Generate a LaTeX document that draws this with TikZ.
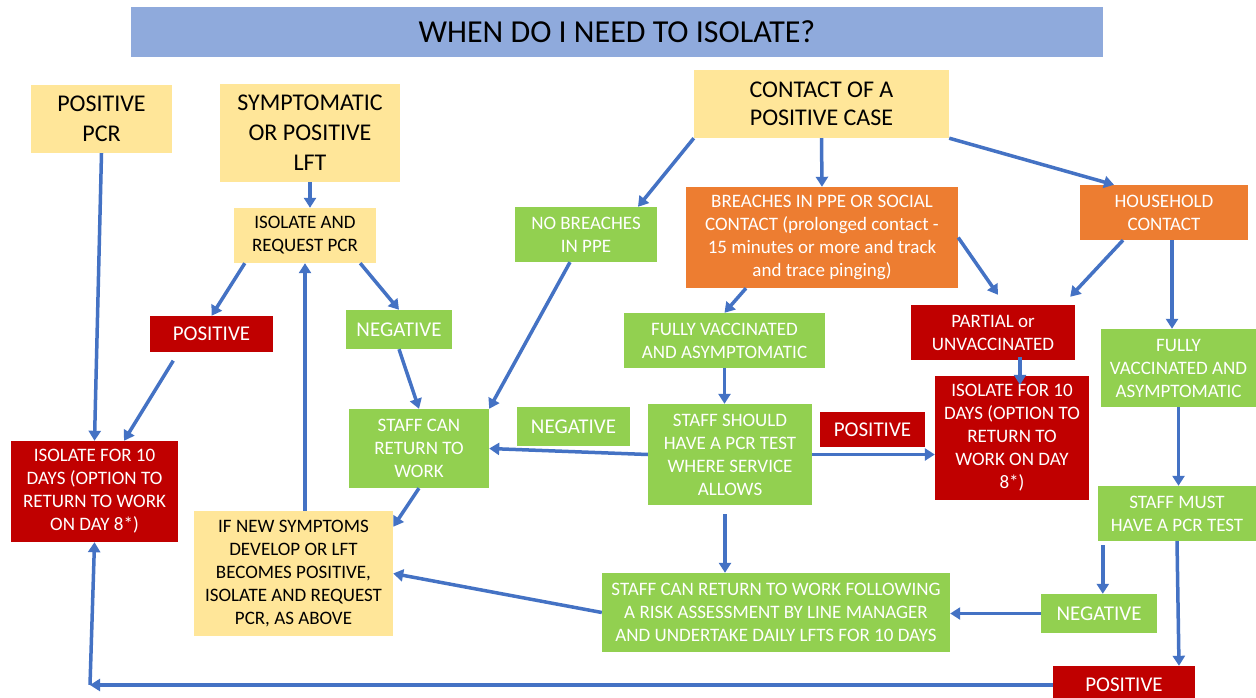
\documentclass[tikz,border=0pt]{standalone}
\usepackage{fontspec}
\setmainfont{Carlito}
\usetikzlibrary{arrows.meta}

\definecolor{cyellow}{HTML}{FFE699}
\definecolor{cred}{HTML}{C00000}
\definecolor{cgreen}{HTML}{92D050}
\definecolor{corange}{HTML}{ED7D31}
\definecolor{cblue}{HTML}{4472C4}
\definecolor{ctitle}{HTML}{8FAADC}

\newcommand\txttitle{\fontsize{32}{38}\selectfont}
\newcommand\txtbig{\fontsize{24}{30}\selectfont}
\newcommand\txtcase{\fontsize{24}{28}\selectfont}
\newcommand\txtlab{\fontsize{21}{25}\selectfont}
\newcommand\txtmid{\fontsize{19}{23}\selectfont}

\begin{document}
\begin{tikzpicture}[
    x=1pt, y=-1pt,
    stage/.style = {fill=#1, text=white, align=center, inner sep=0pt, font=\txtmid},
    stage/.default=cgreen,
    note/.style = {stage=cyellow, text=black},
    sz/.style 2 args = {minimum width=#1, minimum height=#2},
    >={Triangle[length=10pt, width=12pt]},
    flow/.style = {->, draw=cblue, line width=3.5pt}
  ]
  \useasboundingbox[fill=white] (0,0) rectangle (1256,698);

  \node[stage=ctitle, text=black, font=\txttitle, sz={972}{50}] (title) at (617,32) {WHEN DO I NEED TO ISOLATE?};

  % left column
  \node[note, font=\txtbig, sz={141}{68}] (pcr) at (101.5,119) {POSITIVE\\PCR};
  \node[note, font=\txtbig, sz={180}{98}] (sympt) at (310,133) {SYMPTOMATIC\\OR POSITIVE\\LFT};
  \node[note, sz={142}{55}] (isoreq) at (305,235.5) {ISOLATE AND\\REQUEST PCR};
  \node[stage=cred, font=\txtlab, sz={123}{36}] (pos1) at (211.5,334) {POSITIVE};
  \node[stage, font=\txtlab, sz={106}{39}] (neg1) at (399,329.5) {NEGATIVE};
  \node[stage=cred, sz={167}{101}] (isoL) at (94.5,491.5) {ISOLATE FOR 10\\DAYS (OPTION TO\\RETURN TO WORK\\ON DAY 8*)};
  \node[note, sz={199}{125}] (newsym) at (293.5,573.5) {IF NEW SYMPTOMS\\DEVELOP OR LFT\\BECOMES POSITIVE,\\ISOLATE AND REQUEST\\PCR, AS ABOVE};
  \node[stage, sz={140}{79}] (ret) at (419,448.5) {STAFF CAN\\RETURN TO\\WORK};

  % contact of a positive case
  \node[note, font=\txtcase, sz={255}{68}] (contact) at (821.5,104) {CONTACT OF A\\POSITIVE CASE};
  \node[stage, sz={142}{55}] (nobreach) at (586,234.5) {NO BREACHES\\IN PPE};
  \node[stage=corange, sz={272}{101}] (breach) at (822,237.5) {BREACHES IN PPE OR SOCIAL\\CONTACT (prolonged contact -\\15 minutes or more and track\\and trace pinging)};
  \node[stage=corange, sz={168}{55}] (house) at (1164,212.5) {HOUSEHOLD\\CONTACT};
  \node[stage, sz={201}{55}] (fullyC) at (724.5,340.5) {FULLY VACCINATED\\AND ASYMPTOMATIC};
  \node[stage=cred, sz={164}{55}] (partial) at (993,332.5) {PARTIAL or\\UNVACCINATED};
  \node[stage, sz={155}{78}] (fullyR) at (1178.5,368) {FULLY\\VACCINATED AND\\ASYMPTOMATIC};
  \node[stage, font=\txtlab, sz={113}{39}] (neg2) at (573.5,426.5) {NEGATIVE};
  \node[stage, sz={164}{101}] (pcrtest) at (730,454.5) {STAFF SHOULD\\HAVE A PCR TEST\\WHERE SERVICE\\ALLOWS};
  \node[stage=cred, font=\txtlab, sz={105}{35}] (pos2) at (872.5,429.5) {POSITIVE};
  \node[stage=cred, sz={154}{124}] (isoR) at (1012,438) {ISOLATE FOR 10\\DAYS (OPTION TO\\RETURN TO\\WORK ON DAY\\8*)};
  \node[stage, sz={158}{55}] (must) at (1177,513.5) {STAFF MUST\\HAVE A PCR TEST};
  \node[stage, sz={348}{79}] (retrisk) at (776,612.5) {STAFF CAN RETURN TO WORK FOLLOWING\\A RISK ASSESSMENT BY LINE MANAGER\\AND UNDERTAKE DAILY LFTS FOR 10 DAYS};
  \node[stage, font=\txtlab, sz={116}{39}] (neg3) at (1099,613.5) {NEGATIVE};
  \node[stage=cred, font=\txtlab, sz={142}{38}] (pos3) at (1124,685) {POSITIVE};
  \coordinate (bl) at (90,685);

  % connectors, left
  \draw[flow] (pcr.south) -- (isoL.north);
  \draw[flow] (sympt.south) -- (sympt.south |- isoreq.north);
  \draw[flow] ([xshift=11]isoreq.south west) -- (pos1.north);
  \draw[flow] ([xshift=-16]isoreq.south east) -- (neg1.north);
  \draw[flow, shorten <=10pt] ([xshift=-33]pos1.south) -- ([xshift=29.5]isoL.north);
  \draw[flow] (neg1.south) -- (ret.north);
  \draw[flow] (newsym.north -| isoreq.south) -- (isoreq.south);
  \draw[flow] (ret.south) -- ([yshift=-16]newsym.north east);

  % connectors, contact
  \draw[flow] (contact.south west) -- ([xshift=52]nobreach.north);
  \draw[flow] (contact.south) -- (breach.north);
  \draw[flow] (contact.south east) -- ([xshift=-50]house.north);
  \draw[flow] ([xshift=-16]nobreach.south) -- (ret.north east);
  \draw[flow] ([xshift=-76]breach.south) -- (fullyC.north);
  \draw[flow] (breach.east) -- ([xshift=5, yshift=10]partial.north);
  \draw[flow] ([xshift=-41]house.south) -- ([xshift=-5, yshift=8]partial.north east);
  \draw[flow] ([xshift=8]house.south) -- ([xshift=8]house.south |- fullyR.north);
  \draw[flow] ([xshift=27, yshift=3]partial.south) -- ([xshift=8, yshift=-9]isoR.north);
  \draw[flow] (fullyC.south) -- (fullyC.south |- pcrtest.north);
  \draw[flow] (pcrtest.west) -- (ret.east);
  \draw[flow] (pcrtest.east) -- (pcrtest.east -| isoR.west);
  \draw[flow, shorten <=9pt] ([xshift=-5]pcrtest.south) -- ([xshift=-5]pcrtest.south |- retrisk.north);
  \draw[flow] (retrisk.west) -- (newsym.east);
  \draw[flow] (fullyR.south) -- (fullyR.south |- must.north);
  \draw[flow, shorten <=4pt] ([xshift=5]must.south west) -- ([xshift=5]must.south west |- neg3.north);
  \draw[flow] (must.south) -- ([xshift=55]pos3.north);
  \draw[flow] (neg3.west) -- (neg3.west -| retrisk.east);
  \draw[flow] (pos3.west) -- (bl);
  \draw[flow] (bl) -- (isoL.south);

\end{tikzpicture}
\end{document}
